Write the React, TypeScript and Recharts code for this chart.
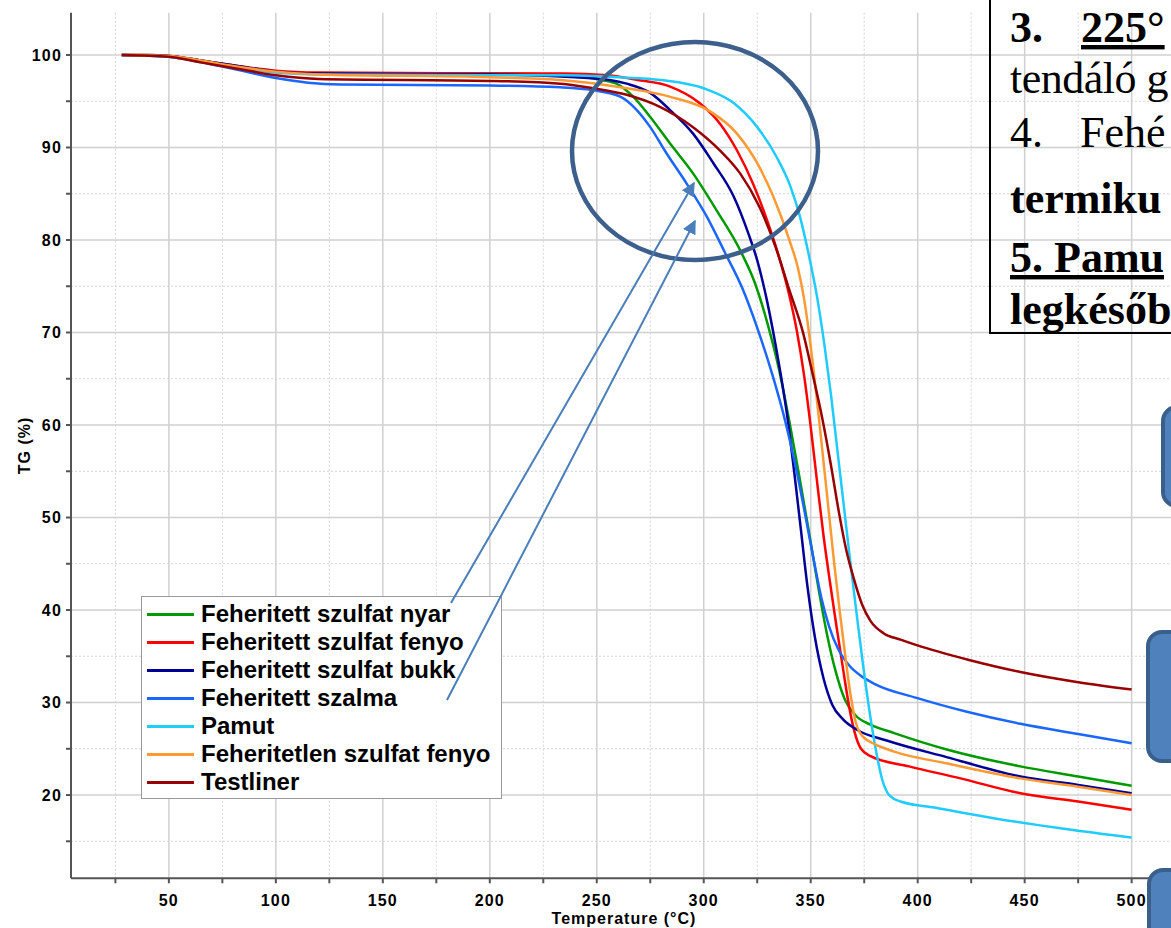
import React from 'react';
import { LineChart, Line, XAxis, YAxis, CartesianGrid, Legend, Label } from 'recharts';

type Pt = [number, number];

// TG curves, [temperature °C, TG %]
const nyar: Pt[] = [
  [28, 100], [40, 100], [50, 99.9], [65, 99.4], [80, 98.8], [100, 98.2], [120, 98.0], [200, 98.0],
  [235, 97.8], [252, 97.3], [260, 96.8], [267, 95.5], [275, 93.3], [284, 90.5], [295, 87.2],
  [306, 83.2], [317, 78.9], [324, 75.3], [330, 70.8], [335, 66.2], [340, 60.4], [345, 54.0],
  [349.5, 48.0], [353.5, 42.5], [357.5, 37.5], [361.5, 33.5], [366, 30.3], [371, 28.6], [378, 27.6],
  [389, 26.7], [414, 24.9], [448, 23.1], [475, 22.0], [500, 21.0],
];
const fenyo: Pt[] = [
  [28, 100], [40, 100], [50, 99.9], [65, 99.4], [80, 98.9], [100, 98.3], [120, 98.1], [200, 98.0],
  [235, 98.0], [255, 97.8], [269, 97.3], [284, 96.6], [298, 94.8], [307.5, 92.6], [315.5, 89.7],
  [323, 86.1], [329.5, 82.2], [335, 78.3], [340, 74.0], [343.5, 70.2], [347, 65.2], [350, 59.8],
  [353, 53.8], [356, 48.0], [359, 43.0], [362, 38.3], [365, 33.8], [368, 29.5], [370.5, 26.8],
  [373.5, 25.0], [378, 24.2], [396, 23.1], [420, 21.8], [448, 20.2], [475, 19.3], [500, 18.4],
];
const bukk: Pt[] = [
  [28, 100], [50, 99.9], [65, 99.4], [80, 98.9], [100, 98.2], [120, 98.0], [200, 97.9], [240, 97.6],
  [256, 97.3], [264, 96.9], [275, 95.9], [284, 94.1], [295, 91.5], [304.5, 88.3], [314, 84.7],
  [321, 80.6], [325, 77.8], [329.5, 73.5], [334, 68.1], [339, 61.0], [342.5, 54.5], [345.5, 48.5],
  [348.5, 42.5], [352, 37.0], [356, 32.6], [360, 29.8], [365, 28.2], [372, 27.0], [385.5, 25.9],
  [413.5, 24.1], [448, 22.0], [475, 21.1], [500, 20.2],
];
const szalma: Pt[] = [
  [28, 100], [50, 99.8], [65, 99.2], [80, 98.5], [100, 97.5], [115, 97.0], [130, 96.8], [200, 96.7],
  [233, 96.5], [248, 96.2], [261, 95.5], [268.5, 94.1], [275, 92.2], [282.5, 89.4], [292, 86.1],
  [301.5, 82.5], [310, 78.6], [318, 74.8], [325, 70.5], [332, 65.5], [338, 60.5], [343, 55.5],
  [347.5, 50.2], [351.5, 45.3], [355, 41.3], [358.5, 38.3], [363, 35.7], [368, 34.0], [374, 32.8],
  [380, 32.0], [399.5, 30.5], [423, 29.0], [448, 27.7], [475, 26.6], [500, 25.6],
];
const pamut: Pt[] = [
  [28, 100], [50, 99.8], [65, 99.3], [80, 98.7], [100, 98.1], [120, 97.9], [200, 97.8], [233, 97.8],
  [260, 97.6], [280, 97.3], [300, 96.4], [314, 94.8], [325, 92.2], [334, 89.0], [340.5, 85.8],
  [345, 82.5], [349, 78.5], [353, 73.8], [356.5, 68.5], [359.5, 63.2], [362.5, 57.2], [365.5, 51.2],
  [368.5, 45.2], [371.5, 39.5], [374.5, 34.0], [377.5, 29.0], [380.5, 24.8], [383.5, 21.6],
  [387, 19.9], [392, 19.3], [409, 18.6], [435.5, 17.5], [470, 16.3], [500, 15.4],
];
const feheritetlen: Pt[] = [
  [28, 100], [50, 99.9], [65, 99.4], [80, 98.8], [100, 98.2], [120, 97.9], [200, 97.6], [233, 97.3],
  [264, 96.4], [284, 95.5], [303, 93.9], [315.5, 91.5], [325, 88.3], [332.5, 84.7], [340, 80.0],
  [344, 77.0], [347, 73.5], [350, 68.5], [353, 62.5], [356, 56.0], [358.5, 50.5], [361, 45.0],
  [363.5, 40.0], [366, 35.3], [368.5, 31.0], [371, 27.9], [374, 26.4], [380, 25.5], [389, 24.7],
  [414, 23.4], [448, 21.8], [475, 20.9], [500, 20.0],
];
const testliner: Pt[] = [
  [28, 100], [50, 99.8], [65, 99.2], [80, 98.6], [100, 97.8], [120, 97.4], [200, 97.2], [233, 96.9],
  [248.5, 96.4], [264, 95.7], [279.5, 94.4], [295, 92.2], [307.5, 89.7], [317, 87.2], [326, 83.6],
  [333.5, 79.3], [340, 74.6], [346.5, 69.9], [351, 65.4], [355.5, 60.6], [359.5, 55.6], [363, 50.8],
  [366.5, 46.6], [370, 43.5], [374, 40.6], [378, 38.8], [384, 37.5], [392, 36.8], [399.5, 36.2],
  [424, 34.6], [448, 33.3], [475, 32.2], [500, 31.4],
];

const series = [
  { name: 'Feheritett szulfat nyar', color: '#009a00', data: nyar },
  { name: 'Feheritett szulfat fenyo', color: '#ff0000', data: fenyo },
  { name: 'Feheritett szulfat bukk', color: '#000099', data: bukk },
  { name: 'Feheritett szalma', color: '#1a66ff', data: szalma },
  { name: 'Pamut', color: '#1fcbff', data: pamut },
  { name: 'Feheritetlen szulfat fenyo', color: '#ff9933', data: feheritetlen },
  { name: 'Testliner', color: '#990000', data: testliner },
];

const xMajor = [50, 100, 150, 200, 250, 300, 350, 400, 450, 500];
const xMinor = [25, 75, 125, 175, 225, 275, 325, 375, 425, 475];
const yMajor = [20, 30, 40, 50, 60, 70, 80, 90, 100];
const yMinor = [15, 25, 35, 45, 55, 65, 75, 85, 95];
const xTicks = [...xMajor, ...xMinor].sort((a, b) => a - b);
const yTicks = [...yMajor, ...yMinor].sort((a, b) => a - b);

// note box text (cut by the slide edge in the original)
const noteLines = [
  { parts: [{ t: '3.', x: 1010 }, { t: '225°', x: 1081, u: true }], y: 42, bold: true },
  { parts: [{ t: 'tendáló g', x: 1010 }], y: 93, bold: false, tight: true },
  { parts: [{ t: '4.', x: 1010 }, { t: 'Fehé', x: 1080 }], y: 147, bold: false },
  { parts: [{ t: 'termiku', x: 1010 }], y: 213, bold: true },
  { parts: [{ t: '5. Pamu', x: 1010, u: true }], y: 272, bold: true },
  { parts: [{ t: 'legkésőb', x: 1010 }], y: 324, bold: true },
];

const font = 'Liberation Sans, Arial, sans-serif';
const tickStyle = { fill: '#000', fontSize: 16, fontWeight: 'bold', fontFamily: font, letterSpacing: 1.2 };

const renderLegend = () => (
  <div
    style={{
      width: 361,
      height: 203,
      boxSizing: 'border-box',
      border: '1.5px solid #999',
      background: '#fff',
      paddingTop: 3,
    }}
  >
    {series.map((s) => (
      <div key={s.name} style={{ height: 28, display: 'flex', alignItems: 'center' }}>
        <div style={{ width: 47, height: 3, background: s.color, marginLeft: 5, marginRight: 7 }} />
        <span style={{ fontFamily: font, fontWeight: 'bold', fontSize: 24, color: '#000', whiteSpace: 'nowrap' }}>
          {s.name}
        </span>
      </div>
    ))}
  </div>
);

const blueBox = (left: number, top: number, height: number) => ({
  position: 'absolute' as const,
  left,
  top,
  width: 120,
  height,
  boxSizing: 'border-box' as const,
  background: '#4f81bd',
  border: '4px solid #3a5f8b',
  borderRadius: 16,
});

export default function App() {
  return (
    <div
      style={{
        position: 'absolute',
        left: 0,
        top: 0,
        width: 1171,
        height: 928,
        overflow: 'hidden',
        background: '#fff',
      }}
    >
      <LineChart width={1177} height={928} margin={{ top: 12.7, right: 0, bottom: 0, left: 0 }}>
        <CartesianGrid
          verticalValues={xMinor}
          horizontalValues={yMinor}
          stroke="#d4d4d4"
          strokeDasharray="2 2"
        />
        <CartesianGrid verticalValues={xMajor} horizontalValues={yMajor} stroke="#d0d0d0" strokeWidth={1.5} />
        <XAxis
          type="number"
          dataKey="t"
          domain={[4.25, 521.2]}
          ticks={xTicks}
          interval={0}
          allowDataOverflow
          tickFormatter={(v: number) => (xMajor.includes(v) ? String(v) : '')}
          height={49.7}
          tickSize={5}
          tickMargin={11}
          stroke="#555"
          strokeWidth={2}
          tick={tickStyle}
        >
          <Label
            value="Temperature (°C)"
            position="insideBottom"
            offset={4}
            style={{ fill: '#000', fontSize: 16, fontWeight: 'bold', fontFamily: font, letterSpacing: 1 }}
          />
        </XAxis>
        <YAxis
          type="number"
          domain={[11, 104.57]}
          ticks={yTicks}
          interval={0}
          allowDataOverflow
          tickFormatter={(v: number) => (yMajor.includes(v) ? String(v) : '')}
          width={71}
          tickSize={5}
          tickMargin={4}
          stroke="#555"
          strokeWidth={2}
          tick={tickStyle}
        >
          <Label
            value="TG (%)"
            angle={-90}
            position="insideLeft"
            offset={24}
            style={{
              fill: '#000',
              fontSize: 16,
              fontWeight: 'bold',
              fontFamily: font,
              letterSpacing: 1,
              textAnchor: 'middle',
            }}
          />
        </YAxis>
        {series.map((s) => (
          <Line
            key={s.name}
            name={s.name}
            data={s.data.map(([t, v]) => ({ t, v }))}
            dataKey="v"
            type="monotone"
            stroke={s.color}
            strokeWidth={2.5}
            dot={false}
            activeDot={false}
            isAnimationActive={false}
          />
        ))}
        <Legend
          layout="vertical"
          align="center"
          verticalAlign="middle"
          content={renderLegend}
          wrapperStyle={{ left: 141, top: 596, width: 361, height: 203 }}
        />
      </LineChart>

      <svg
        width={1171}
        height={928}
        style={{ position: 'absolute', left: 0, top: 0, pointerEvents: 'none' }}
      >
        <defs>
          <marker id="arrowHead" viewBox="0 0 10 10" refX="9" refY="5" markerWidth="7" markerHeight="7" orient="auto">
            <path d="M0,0 L10,5 L0,10 z" fill="#4a7ebb" />
          </marker>
        </defs>
        <ellipse cx={695} cy={151} rx={123} ry={109} fill="none" stroke="#3c5f8c" strokeWidth={4.5} />
        <line x1={451} y1={603} x2={694} y2={183} stroke="#4a7ebb" strokeWidth={2} markerEnd="url(#arrowHead)" />
        <line x1={447} y1={700} x2={695} y2={221} stroke="#4a7ebb" strokeWidth={2} markerEnd="url(#arrowHead)" />
        {noteLines.map((ln, i) =>
          ln.parts.map((p, j) => (
            <text
              key={`${i}-${j}`}
              x={p.x}
              y={ln.y}
              fontFamily="Liberation Serif, Times New Roman, serif"
              fontSize={44}
              fontWeight={ln.bold ? 'bold' : 'normal'}
              letterSpacing={(ln as any).tight ? -0.5 : 0}
              textDecoration={(p as any).u ? 'underline' : undefined}
              fill="#000"
            >
              {p.t}
            </text>
          ))
        )}
      </svg>

      <div
        style={{
          position: 'absolute',
          left: 989,
          top: -10,
          width: 260,
          height: 344,
          boxSizing: 'border-box',
          border: '2px solid #000',
        }}
      />
      <div style={blueBox(1161, 405, 103)} />
      <div style={blueBox(1146, 630, 133)} />
      <div style={blueBox(1147, 868, 120)} />
    </div>
  );
}
